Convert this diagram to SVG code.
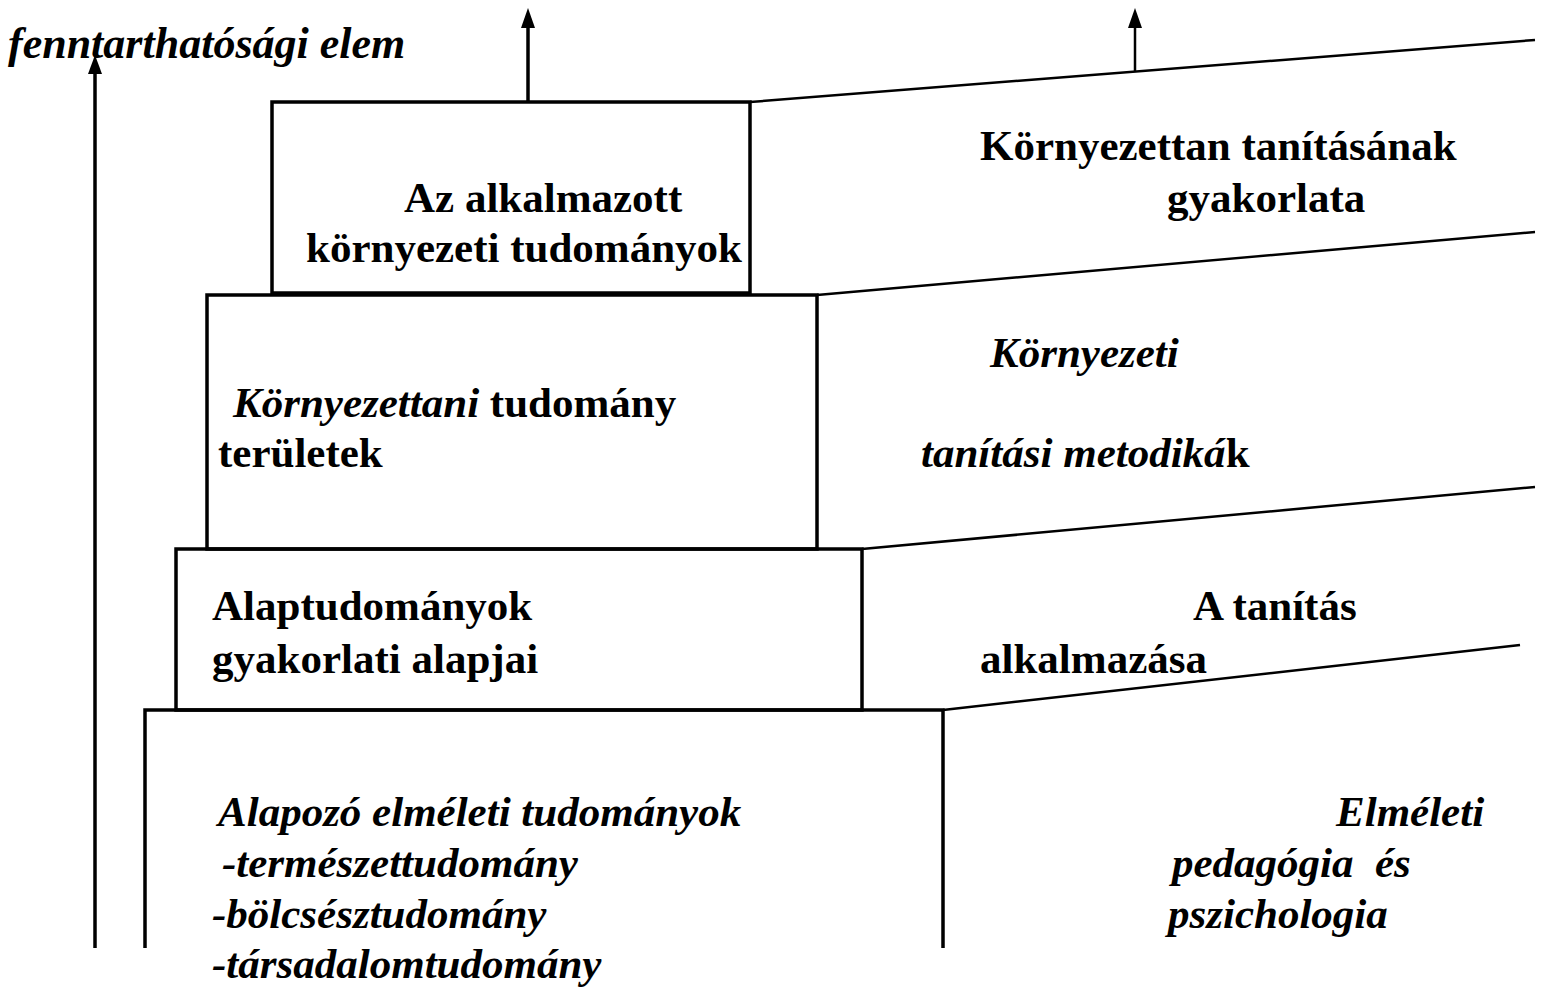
<svg xmlns="http://www.w3.org/2000/svg" width="1545" height="987" viewBox="0 0 1545 987">
<style>
.t{font-family:"Liberation Serif","Times New Roman",serif;font-weight:bold;font-size:43px;fill:#000}
.i{font-style:italic}
.h{font-size:44px}
.box{fill:none;stroke:#000;stroke-width:3.5}
.ln{stroke:#000;stroke-width:2.5;fill:none}
.ar{stroke:#000;stroke-width:3.5;fill:none}
</style>
<rect width="1545" height="987" fill="#fff"/>
<g id="connectors">
<line class="ar" x1="95" y1="948" x2="95" y2="72"/>
<path d="M88,74 L95,55 L102,74 Z" fill="#000"/>
<line class="ar" x1="528" y1="102" x2="528" y2="26"/>
<path d="M521,28 L528,8 L535,28 Z" fill="#000"/>
<line class="ln" x1="1135" y1="71" x2="1135" y2="26"/>
<path d="M1128,28 L1135,8 L1142,28 Z" fill="#000"/>
<line class="ln" x1="750" y1="102" x2="1535" y2="40"/>
<line class="ln" x1="817" y1="295" x2="1535" y2="232"/>
<line class="ln" x1="862" y1="549" x2="1535" y2="487"/>
<line class="ln" x1="943" y1="710" x2="1520" y2="645"/>
</g>
<g id="title">
<text class="t i h" x="8" y="58">fenntarthatósági elem</text>
</g>
<g id="box-applied">
<rect class="box" x="272" y="102" width="478" height="191"/>
<text class="t" x="404" y="212">Az alkalmazott</text>
<text class="t" x="306" y="262">környezeti tudományok</text>
</g>
<g id="box-environmental">
<rect class="box" x="207" y="295" width="610" height="254"/>
<text class="t" x="233" y="417"><tspan class="i">Környezettani</tspan> tudomány</text>
<text class="t" x="218" y="467">területek</text>
</g>
<g id="box-basic">
<rect class="box" x="176" y="549" width="686" height="161"/>
<text class="t" x="212" y="620">Alaptudományok</text>
<text class="t" x="212" y="673">gyakorlati alapjai</text>
</g>
<g id="box-foundation">
<path class="box" d="M145,948 L145,710 L943,710 L943,948"/>
<text class="t i" x="218" y="826">Alapozó elméleti tudományok</text>
<text class="t i" x="222" y="877">-természettudomány</text>
<text class="t i" x="212" y="928">-bölcsésztudomány</text>
<text class="t i" x="212" y="978">-társadalomtudomány</text>
</g>
<g id="band-practice">
<text class="t" x="980" y="160">Környezettan tanításának</text>
<text class="t" x="1167" y="212">gyakorlata</text>
</g>
<g id="band-methods">
<text class="t i" x="990" y="367">Környezeti</text>
<text class="t" x="921" y="467"><tspan class="i">tanítási metodiká</tspan>k</text>
</g>
<g id="band-application">
<text class="t" x="1193" y="620">A tanítás</text>
<text class="t" x="980" y="673">alkalmazása</text>
</g>
<g id="band-theory">
<text class="t i" x="1336" y="826">Elméleti</text>
<text class="t i" x="1172" y="877" xml:space="preserve">pedagógia  és</text>
<text class="t i" x="1168" y="928">pszichologia</text>
</g>
</svg>
